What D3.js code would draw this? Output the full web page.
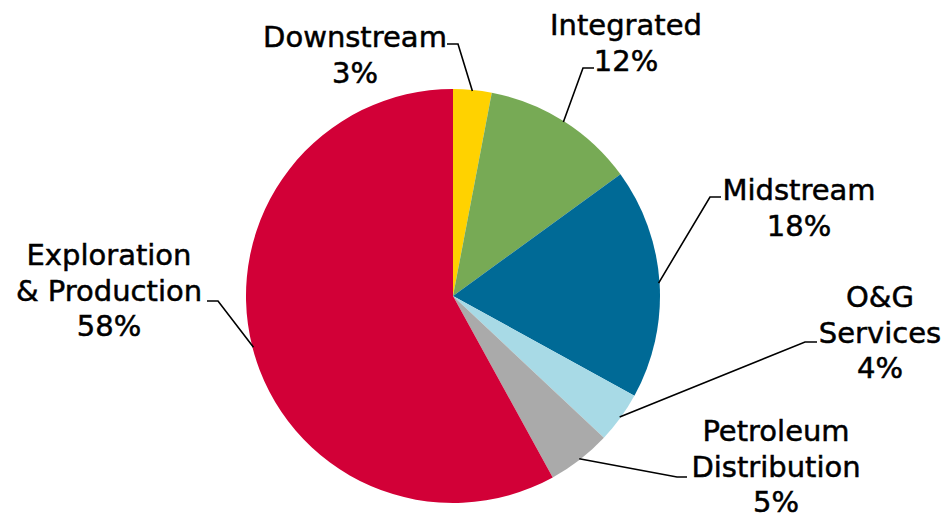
<!DOCTYPE html>
<html>
<head>
<meta charset="utf-8">
<script src="https://cdn.jsdelivr.net/npm/d3@7"></script>
<style>
  html, body { margin: 0; padding: 0; background: #fff; }
</style>
</head>
<body>
<div id="chart"></div>
<script>
// sectors, clockwise from 12 o'clock
const categories = ["Downstream", "Integrated", "Midstream", "O&G Services", "Petroleum Distribution", "Exploration & Production"];
const shares = [3, 12, 18, 4, 5, 58];
const labelLines = [
  ["Downstream"],
  ["Integrated"],
  ["Midstream"],
  ["O&G", "Services"],
  ["Petroleum", "Distribution"],
  ["Exploration", "& Production"]
];
const colors = ["#FFD200", "#77AA55", "#006A96", "#A8DAE6", "#AAAAAA", "#D20037"];

// label layout: text centre x, first baseline y, leader elbow and end
const layout = [
  { x: 355, y: 47,  elbow: [458, 44],  end: [447, 44] },
  { x: 626, y: 35,  elbow: [583, 68],  end: [594, 68] },
  { x: 799, y: 200, elbow: [710, 197], end: [721, 197] },
  { x: 880, y: 307, elbow: [805, 342], end: [817, 342] },
  { x: 776, y: 441, elbow: [677, 477], end: [687, 477] },
  { x: 109, y: 265, elbow: [218, 301], end: [207, 301] }
];

const width = 948, height = 517;
const cx = 453, cy = 296, radius = 207;
const lineHeight = 35.5;

const data = categories.map((c, i) => ({ name: c, value: shares[i], lines: labelLines[i], color: colors[i], pos: layout[i] }));

const pie = d3.pie().value(d => d.value).sort(null);
const arc = d3.arc().innerRadius(0).outerRadius(radius);
const arcs = pie(data);

const svg = d3.select("#chart").append("svg")
    .attr("width", width)
    .attr("height", height)
    .attr("viewBox", [0, 0, width, height]);

const g = svg.append("g").attr("transform", `translate(${cx},${cy})`);

g.selectAll("path.slice")
  .data(arcs)
  .join("path")
    .attr("class", "slice")
    .attr("fill", d => d.data.color)
    .attr("d", arc);

// leader lines from slice edge to label
const edge = d3.arc().innerRadius(radius - 1).outerRadius(radius - 1);
svg.append("g")
  .selectAll("polyline")
  .data(arcs)
  .join("polyline")
    .attr("fill", "none")
    .attr("stroke", "#000")
    .attr("stroke-width", 1.6)
    .attr("points", d => {
      const [ex, ey] = edge.centroid(d);
      const p = d.data.pos;
      return [[ex + cx, ey + cy], p.elbow, p.end].map(q => q.join(",")).join(" ");
    });

const labels = svg.append("g")
    .attr("font-family", "DejaVu Sans, Verdana, sans-serif")
    .attr("font-size", 29)
    .attr("fill", "#000")
    .attr("stroke", "#000")
    .attr("stroke-width", 0.5)
    .attr("text-anchor", "middle");

labels.selectAll("text")
  .data(arcs)
  .join("text")
    .attr("x", d => d.data.pos.x)
    .attr("y", d => d.data.pos.y)
    .each(function(d) {
      const t = d3.select(this);
      const lines = d.data.lines.concat([d.data.value + "%"]);
      lines.forEach((ln, i) => {
        t.append("tspan")
          .attr("x", d.data.pos.x)
          .attr("dy", i === 0 ? 0 : lineHeight)
          .text(ln);
      });
    });
</script>
</body>
</html>
